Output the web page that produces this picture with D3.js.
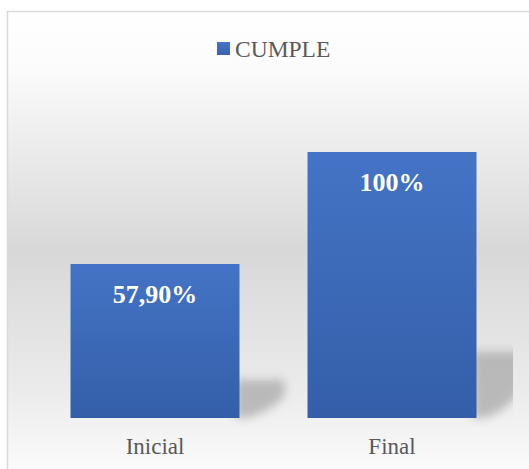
<!DOCTYPE html>
<html>
<head>
<meta charset="utf-8">
<script src="https://cdn.jsdelivr.net/npm/d3@7"></script>
<style>
  html, body { margin: 0; padding: 0; background: #ffffff; }
  svg { display: block; }
</style>
</head>
<body>
<svg id="chart" width="529" height="469"></svg>
<script>
const categories = ["Inicial", "Final"];
const values = [0.579, 1.0];
const valueLabels = ["57,90%", "100%"];
const seriesName = "CUMPLE";

const W = 529, H = 469;
const svg = d3.select("#chart");
const defs = svg.append("defs");
const SERIF = "Liberation Serif, Times New Roman, serif";

// background gradient
const bg = defs.append("linearGradient").attr("id", "bgGrad")
  .attr("x1", 0).attr("y1", 0).attr("x2", 0).attr("y2", 1);
[[0, "#ffffff"], [0.12, "#fbfbfb"], [0.5, "#d8d8d8"], [0.8, "#ececec"], [1, "#ffffff"]]
  .forEach(([o, c]) => bg.append("stop").attr("offset", o).attr("stop-color", c));

// bar gradient
const bgBar = defs.append("linearGradient").attr("id", "barGrad")
  .attr("x1", 0).attr("y1", 0).attr("x2", 0).attr("y2", 1);
[[0, "#4474c6"], [1, "#345ea8"]]
  .forEach(([o, c]) => bgBar.append("stop").attr("offset", o).attr("stop-color", c));

// legend gradient
const lg = defs.append("linearGradient").attr("id", "legGrad")
  .attr("x1", 0).attr("y1", 0).attr("x2", 0).attr("y2", 1);
[[0, "#4474c6"], [1, "#3863b0"]]
  .forEach(([o, c]) => lg.append("stop").attr("offset", o).attr("stop-color", c));

// shadow blur
defs.append("filter").attr("id", "blur").attr("x", "-50%").attr("y", "-50%")
  .attr("width", "200%").attr("height", "200%")
  .append("feGaussianBlur").attr("stdDeviation", 5);

defs.append("clipPath").attr("id", "plotClip")
  .append("rect").attr("x", 8).attr("y", 12).attr("width", 505).attr("height", 460);

// chart area
svg.append("rect")
  .attr("x", 7.5).attr("y", 11.5)
  .attr("width", 540).attr("height", 480)
  .attr("fill", "url(#bgGrad)")
  .attr("stroke", "#d9d9d9").attr("stroke-width", 1.5);

const x = d3.scaleBand()
  .domain(categories)
  .range([36.5, 510.5])
  .paddingInner(0.287)
  .paddingOuter(0.1435);

const y = d3.scaleLinear().domain([0, 1]).range([418, 152]);

const data = categories.map((c, i) => ({ cat: c, v: values[i], label: valueLabels[i] }));

// shadows
const shadowG = svg.append("g").attr("clip-path", "url(#plotClip)");
shadowG.selectAll("path.shadow")
  .data(data)
  .join("path")
  .attr("class", "shadow")
  .attr("d", d => {
    const x1 = x(d.cat) + x.bandwidth();
    const b = y(0);
    const h = y(0) - y(d.v);
    const top = b - 0.25 * h;
    const dx = 0.22 * x.bandwidth() + 0.05 * h;
    return `M${x1 - 4},${b} L${x1 - 4},${top} L${x1 + dx},${top} L${x1 + dx},${top + 0.45 * (b - top)} Q${x1 + dx * 0.6},${b - 4} ${x1 + 6},${b} Z`;
  })
  .attr("fill", "#a9a9a9")
  .attr("opacity", 0.75)
  .attr("filter", "url(#blur)");

// bars
svg.selectAll("rect.bar")
  .data(data)
  .join("rect")
  .attr("class", "bar")
  .attr("x", d => x(d.cat))
  .attr("y", d => y(d.v))
  .attr("width", x.bandwidth())
  .attr("height", d => y(0) - y(d.v))
  .attr("fill", "url(#barGrad)");

// value labels
svg.selectAll("text.val")
  .data(data)
  .join("text")
  .attr("class", "val")
  .attr("x", d => x(d.cat) + x.bandwidth() / 2)
  .attr("y", d => y(d.v) + 39)
  .attr("text-anchor", "middle")
  .style("font-family", SERIF)
  .attr("font-weight", "bold")
  .attr("font-size", 26)
  .attr("fill", "#ffffff")
  .text(d => d.label);

// category axis
const xAxis = d3.axisBottom(x).tickSize(0).tickPadding(0);
const axisG = svg.append("g").attr("transform", "translate(0,454)").call(xAxis)
  .attr("font-family", null).attr("font-size", null);
axisG.select(".domain").remove();
axisG.selectAll("text")
  .attr("dy", null)
  .attr("y", 0)
  .style("font-family", SERIF)
  .style("font-size", "23px")
  .attr("fill", "#595959");

// legend
const leg = svg.append("g");
leg.append("rect").attr("x", 217).attr("y", 42).attr("width", 13).attr("height", 13)
  .attr("fill", "url(#legGrad)");
leg.append("text").attr("x", 235).attr("y", 57)
  .style("font-family", SERIF)
  .style("font-size", "23.5px")
  .attr("fill", "#595959")
  .text(seriesName);
</script>
</body>
</html>
